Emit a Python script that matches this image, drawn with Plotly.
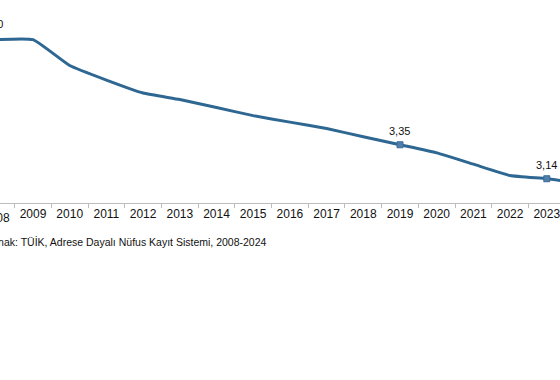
import plotly.graph_objects as go

years = [str(y) for y in range(2008, 2025)]
values = [4.00, 4.00, 3.84, 3.75, 3.67, 3.63, 3.58, 3.53, 3.49, 3.45, 3.40, 3.35, 3.30, 3.23, 3.16, 3.14, 3.11]
labeled_years = ["2008", "2019", "2023"]
source_text = "Kaynak: TÜİK, Adrese Dayalı Nüfus Kayıt Sistemi, 2008-2024"

def fmt(v):
    return f"{v:.2f}".replace(".", ",")

lab_idx = [years.index(y) for y in labeled_years]
lab_vals = [values[i] for i in lab_idx]

fig = go.Figure()
fig.add_trace(go.Scatter(
    x=years, y=values, mode="lines",
    line=dict(color="#2e6792", width=3, shape="spline", smoothing=0.4),
    hoverinfo="skip", showlegend=False,
))
fig.add_trace(go.Scatter(
    x=labeled_years, y=lab_vals, mode="markers",
    marker=dict(symbol="square", size=6, color="#4f7fab", line=dict(color="#3b6c97", width=1)),
    hoverinfo="skip", showlegend=False,
))

font = dict(family="Liberation Sans, Arial, sans-serif", color="#111111")
annotations = []
for i, v in zip(lab_idx, lab_vals):
    if i == 0:
        annotations.append(dict(xref="paper", x=-0.014, yref="y", y=v, yshift=16,
                                text=fmt(v), showarrow=False, xanchor="center", yanchor="middle",
                                font=dict(size=11, **font)))
    else:
        annotations.append(dict(xref="x", x=i, yref="y", y=v, yshift=14,
                                text=fmt(v), showarrow=False, xanchor="center", yanchor="middle",
                                font=dict(size=11, **font)))
# partially visible first year tick label
annotations.append(dict(xref="paper", x=-0.0066, yref="paper", y=-0.072, text=years[0],
                        showarrow=False, xanchor="center", yanchor="middle",
                        font=dict(size=12, **font)))
annotations.append(dict(xref="paper", x=-0.039, yref="paper", y=-0.192, text=source_text,
                        showarrow=False, xanchor="left", yanchor="middle",
                        font=dict(size=10.5, **font)))

fig.update_layout(
    width=560, height=380,
    margin=dict(l=0, r=0, t=0, b=177),
    paper_bgcolor="white", plot_bgcolor="white",
    annotations=annotations,
    xaxis=dict(type="category", range=[0.1008, 15.36], tickson="boundaries",
               ticks="outside", ticklen=4, tickcolor="#bdbdbd", tickwidth=1,
               showline=True, linecolor="#bdbdbd", linewidth=1, showgrid=False,
               tickfont=dict(size=12, **font), zeroline=False),
    yaxis=dict(range=[2.99, 4.245], showticklabels=False, showgrid=False,
               zeroline=False, showline=False, ticks=""),
)

fig.write_html("out.html", config={"displayModeBar": False},
               post_script="document.body.style.margin='0';document.body.style.overflow='hidden';")
